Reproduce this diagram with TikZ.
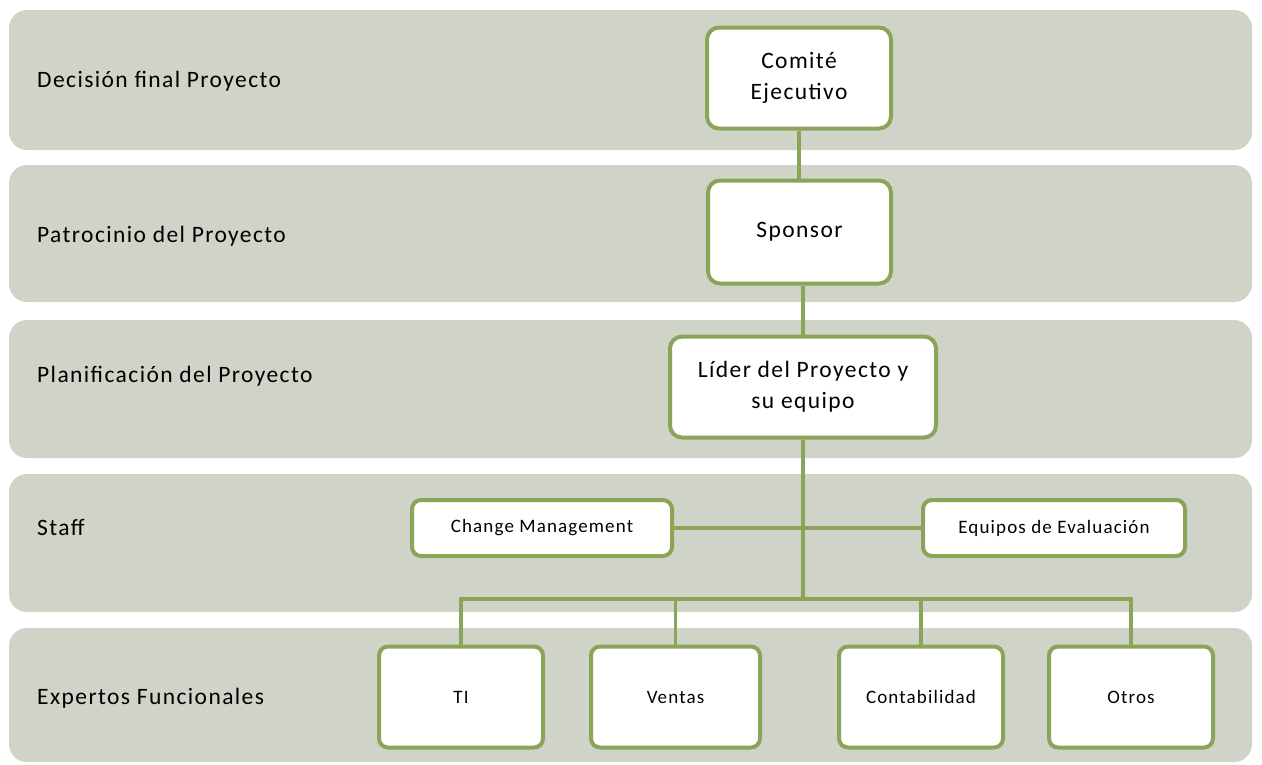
\documentclass[tikz,border=0pt]{standalone}
\usepackage{fontspec}
\setmainfont{Carlito}
\definecolor{bandgray}{RGB}{208,211,200}
\definecolor{leaf}{RGB}{138,165,90}
\begin{document}
\begin{tikzpicture}[x=1pt,y=-1pt,
  band/.style={fill=bandgray, draw=none, rounded corners=18pt},
  lane/.style={anchor=west, inner sep=0pt, font=\fontsize{23.5}{28}\selectfont\addfontfeatures{LetterSpace=6}},
  box/.style={draw=leaf, line width=4pt, fill=white, rounded corners=12pt,
    align=center, inner sep=0pt, font=\fontsize{23.5}{31}\selectfont\addfontfeatures{LetterSpace=6}},
  smallbox/.style={box, rounded corners=9pt, font=\fontsize{19}{23}\selectfont\addfontfeatures{LetterSpace=6}},
  wire/.style={draw=leaf, line width=3.5pt}]
\useasboundingbox (0,0) rectangle (1262,764);
% horizontal bands
\path[band] (9,10) rectangle (1252,150);
\path[band] (9,165) rectangle (1252,302);
\path[band] (9,320) rectangle (1252,458);
\path[band] (9,474) rectangle (1252,612);
\path[band] (9,628) rectangle (1252,762);
% band titles
\node[lane] (t1) at (37,81) {Decisión final Proyecto};
\node[lane] (t2) at (37,236) {Patrocinio del Proyecto};
\node[lane] (t3) at (37,376) {Planificación del Proyecto};
\node[lane] (t4) at (37,527) {Staff};
\node[lane] (t5) at (37,698) {Expertos Funcionales};
% hierarchy boxes
\node[box, minimum width=184, minimum height=101] (com) at (799,78) {Comité\\Ejecutivo};
\node[box, minimum width=183, minimum height=103] (spo) at (799.5,232) {Sponsor};
\node[box, minimum width=266, minimum height=101] (lid) at (803,387) {Líder del Proyecto y\\su equipo};
\node[smallbox, minimum width=260, minimum height=56] (chg) at (542,528) {Change Management};
\node[smallbox, minimum width=262, minimum height=56] (eqp) at (1054,528) {Equipos de Evaluación};
\node[smallbox, minimum width=164, minimum height=101] (ti) at (461,697) {TI};
\node[smallbox, minimum width=169, minimum height=101] (ven) at (675.5,697) {Ventas};
\node[smallbox, minimum width=164, minimum height=101] (con) at (921,697) {Contabilidad};
\node[smallbox, minimum width=164, minimum height=101] (oth) at (1131,697) {Otros};
\coordinate (hub) at (803,599);
% connectors
\draw[wire] (com.south) -- (com.south |- spo.north);
\draw[wire] (lid.north) -- (lid.north |- spo.south);
\draw[wire] (lid.south) -- (hub);
\draw[wire] (chg.east) -- (eqp.west);
\draw[wire] (ti.north) |- (hub) -| (oth.north);
\draw[wire] (ven.north) -- (ven.north |- hub);
\draw[wire] (con.north) -- (con.north |- hub);
\end{tikzpicture}
\end{document}
